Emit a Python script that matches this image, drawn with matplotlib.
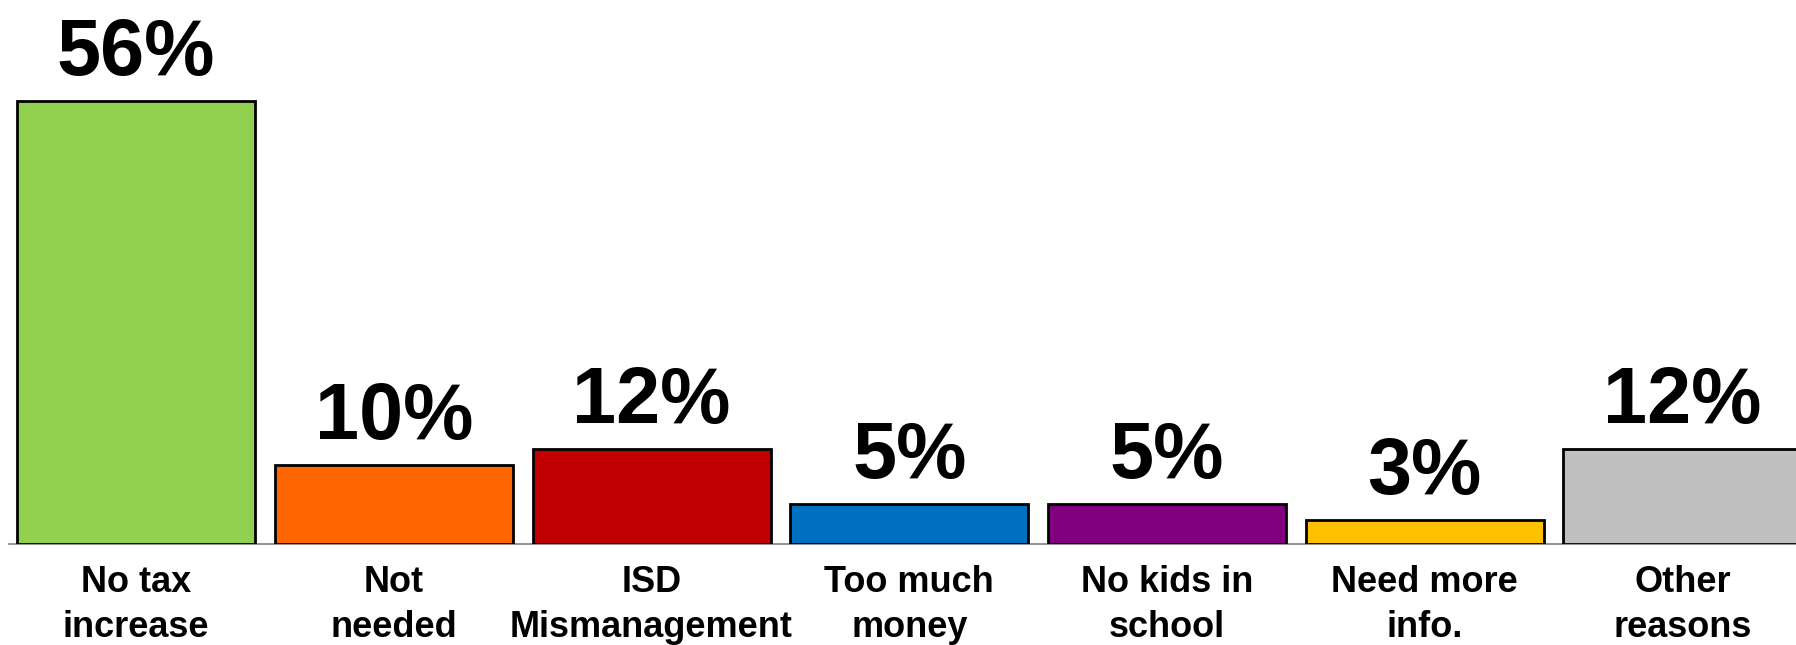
import matplotlib.pyplot as plt

categories = ['No tax\nincrease', 'Not\nneeded', 'ISD\nMismanagement', 'Too much\nmoney',
              'No kids in\nschool', 'Need more\ninfo.', 'Other\nreasons']
values = [56, 10, 12, 5, 5, 3, 12]
colors = ['#92D050', '#FF6600', '#C00000', '#0070C0', '#800080', '#FFC000', '#C0C0C0']

plt.rcParams['font.family'] = ['Liberation Sans', 'DejaVu Sans']

fig = plt.figure(figsize=(17.96, 6.45), dpi=100)
# axes bottom sits on the baseline; the right edge runs a little past the figure
ax = fig.add_axes([0.0051, 0.1566, 1.0034, 0.7358])

x = range(len(values))
ax.bar(x, values, width=0.924, color=colors, edgecolor='black', linewidth=2, zorder=3)

for xi, v in zip(x, values):
    ax.annotate(f'{v}%', (xi, v), xytext=(0, 19), textcoords='offset points',
                ha='center', va='baseline', fontsize=57, fontweight='bold')

ax.set_xlim(-0.493, 6.5)
ax.set_ylim(0, 60)
ax.set_xticks(list(x))
ax.set_xticklabels(categories, fontsize=26, fontweight='bold', linespacing=1.38)
ax.tick_params(axis='x', length=0, pad=15)
ax.set_yticks([])
for s in ['top', 'left', 'right']:
    ax.spines[s].set_visible(False)
ax.spines['bottom'].set_color('#808080')
ax.spines['bottom'].set_linewidth(1.2)

fig.savefig('out.png', dpi=100)
